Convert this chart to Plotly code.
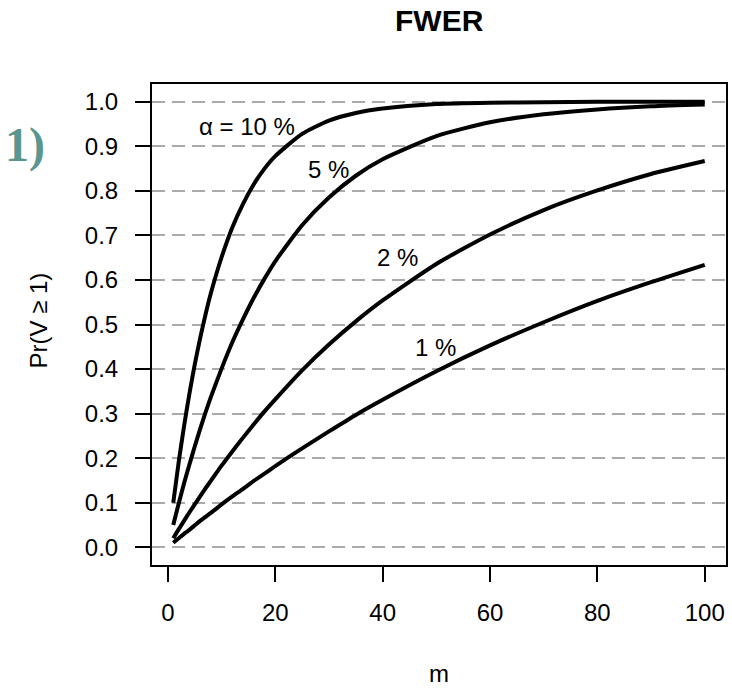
import plotly.graph_objects as go

m_vals = [1, 2, 3, 4, 5, 6, 7, 8, 10, 12, 14, 16, 18, 20, 25, 30, 35, 40, 50, 60, 70, 80, 90, 100]
fwer_10 = [0.100, 0.190, 0.271, 0.344, 0.410, 0.469, 0.522, 0.570, 0.651, 0.718, 0.771, 0.815, 0.850, 0.878, 0.928, 0.958, 0.975, 0.985, 0.995, 0.998, 0.999, 1.000, 1.000, 1.000]
fwer_5 = [0.050, 0.0975, 0.143, 0.185, 0.226, 0.265, 0.302, 0.337, 0.401, 0.460, 0.512, 0.560, 0.603, 0.642, 0.723, 0.785, 0.834, 0.871, 0.923, 0.954, 0.972, 0.983, 0.990, 0.994]
fwer_2 = [0.020, 0.040, 0.059, 0.078, 0.096, 0.114, 0.132, 0.149, 0.183, 0.215, 0.246, 0.276, 0.305, 0.332, 0.397, 0.455, 0.507, 0.554, 0.636, 0.702, 0.757, 0.801, 0.838, 0.867]
fwer_1 = [0.010, 0.020, 0.030, 0.039, 0.049, 0.059, 0.068, 0.077, 0.096, 0.114, 0.131, 0.149, 0.165, 0.182, 0.222, 0.260, 0.297, 0.331, 0.395, 0.453, 0.505, 0.553, 0.595, 0.634]
series = [fwer_10, fwer_5, fwer_2, fwer_1]

labels = ["\u03b1 = 10 %", "5 %", "2 %", "1 %"]
label_x = [14.8, 30.0, 42.8, 49.9]
label_y = [0.944, 0.849, 0.650, 0.448]

x_ticks = [0, 20, 40, 60, 80, 100]
y_ticks = [0.0, 0.1, 0.2, 0.3, 0.4, 0.5, 0.6, 0.7, 0.8, 0.9, 1.0]

SANS = "Liberation Sans, Arial"
font = dict(family=SANS, size=24, color="black")

fig = go.Figure()
for s in series:
    fig.add_trace(go.Scatter(x=m_vals, y=s, mode="lines",
                             line=dict(color="black", width=4, shape="spline", smoothing=0.6),
                             showlegend=False, hoverinfo="skip"))

for t, lx, ly in zip(labels, label_x, label_y):
    fig.add_annotation(x=lx, y=ly, text=t, showarrow=False, font=font,
                       xanchor="center", yanchor="middle")

# title, axis titles and panel tag
common = dict(xref="paper", yref="paper", showarrow=False, xanchor="center", yanchor="middle")
fig.add_annotation(x=0.5, y=1.133, text="<b>FWER</b>",
                   font=dict(family=SANS, size=30, color="black"), **common)
fig.add_annotation(x=0.5, y=-0.2266, text="m", font=font, **common)
fig.add_annotation(x=-0.198, y=0.509, text="Pr(V \u2265 1)", textangle=-90, font=font, **common)
fig.add_annotation(x=-0.2205, y=0.873, text="<b>1)</b>",
                   font=dict(family="Liberation Serif, Times New Roman", size=48, color="#5b9590"), **common)

fig.update_layout(
    width=732, height=688,
    margin=dict(l=152, r=4, t=84, b=123),
    paper_bgcolor="white", plot_bgcolor="white",
    font=font,
    xaxis=dict(range=[-2.96, 103.96], tickvals=x_ticks, ticks="outside", ticklen=15, tickwidth=2,
               tickcolor="black", showgrid=False, zeroline=False, showline=True, linecolor="black",
               linewidth=2, mirror=True, tickfont=font, ticklabelstandoff=10),
    yaxis=dict(range=[-0.04, 1.04], tickvals=y_ticks, tickformat=".1f", ticks="outside", ticklen=15,
               tickwidth=2, tickcolor="black", showgrid=True, gridcolor="#aaaaaa", gridwidth=2,
               griddash="13px,7px", zeroline=False, showline=True, linecolor="black", linewidth=2,
               mirror=True, tickfont=font, ticklabelstandoff=12),
)

fig.write_html("out.html", config={"displayModeBar": False},
               post_script="document.body.style.margin='0px';")
